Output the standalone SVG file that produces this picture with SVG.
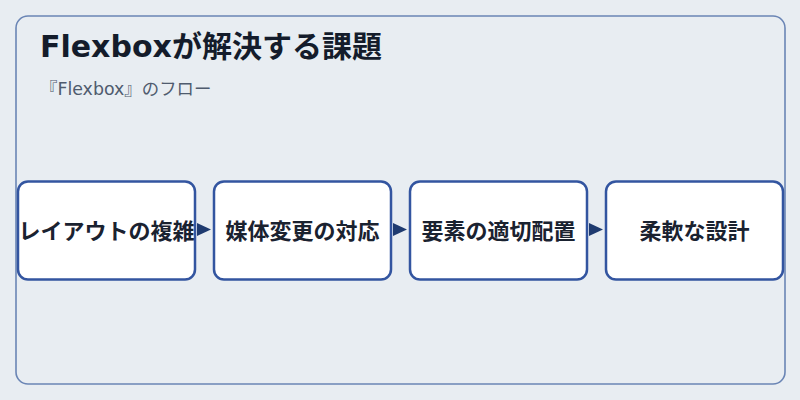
<svg xmlns="http://www.w3.org/2000/svg" width="800" height="400" viewBox="0 0 800 400">
<style>
.frame{fill:#e8edf2;stroke:#6a85b5;stroke-width:1.6}
.box{fill:#ffffff;stroke:#3355a0;stroke-width:2.5}
.lbl{font-family:"Noto Sans CJK JP","Noto Sans",sans-serif;font-weight:700;font-size:22px;fill:#1a2230;text-anchor:middle}
.title{font-family:"DejaVu Sans","Noto Sans CJK JP",sans-serif;font-weight:700;font-size:30px;fill:#141c2b}
.sub{font-family:"DejaVu Sans","Noto Sans CJK JP",sans-serif;font-size:17.4px;fill:#4f5b6e}
.arr{fill:#1f3b70}
</style>
<rect width="800" height="400" fill="#e8edf2"/>
<rect class="frame" x="16" y="16" width="769" height="368" rx="12"/>
<text class="title" x="40" y="57">Flexboxが解決する課題</text>
<text class="sub" x="40" y="95">『Flexbox』のフロー</text>
<g id="connectors">
<polygon class="arr" points="197,223 211,229.5 197,236"/>
<polygon class="arr" points="393,223 407,229.5 393,236"/>
<polygon class="arr" points="589,223 603,229.5 589,236"/>
</g>
<g id="node1"><rect class="box" x="18" y="181.5" width="177" height="98" rx="10"/><text class="lbl" x="106.5" y="238.5">レイアウトの複雑</text></g>
<g id="node2"><rect class="box" x="214" y="181.5" width="177" height="98" rx="10"/><text class="lbl" x="302.5" y="238.5">媒体変更の対応</text></g>
<g id="node3"><rect class="box" x="410" y="181.5" width="177" height="98" rx="10"/><text class="lbl" x="498.5" y="238.5">要素の適切配置</text></g>
<g id="node4"><rect class="box" x="606" y="181.5" width="177" height="98" rx="10"/><text class="lbl" x="694.5" y="238.5">柔軟な設計</text></g>
</svg>
